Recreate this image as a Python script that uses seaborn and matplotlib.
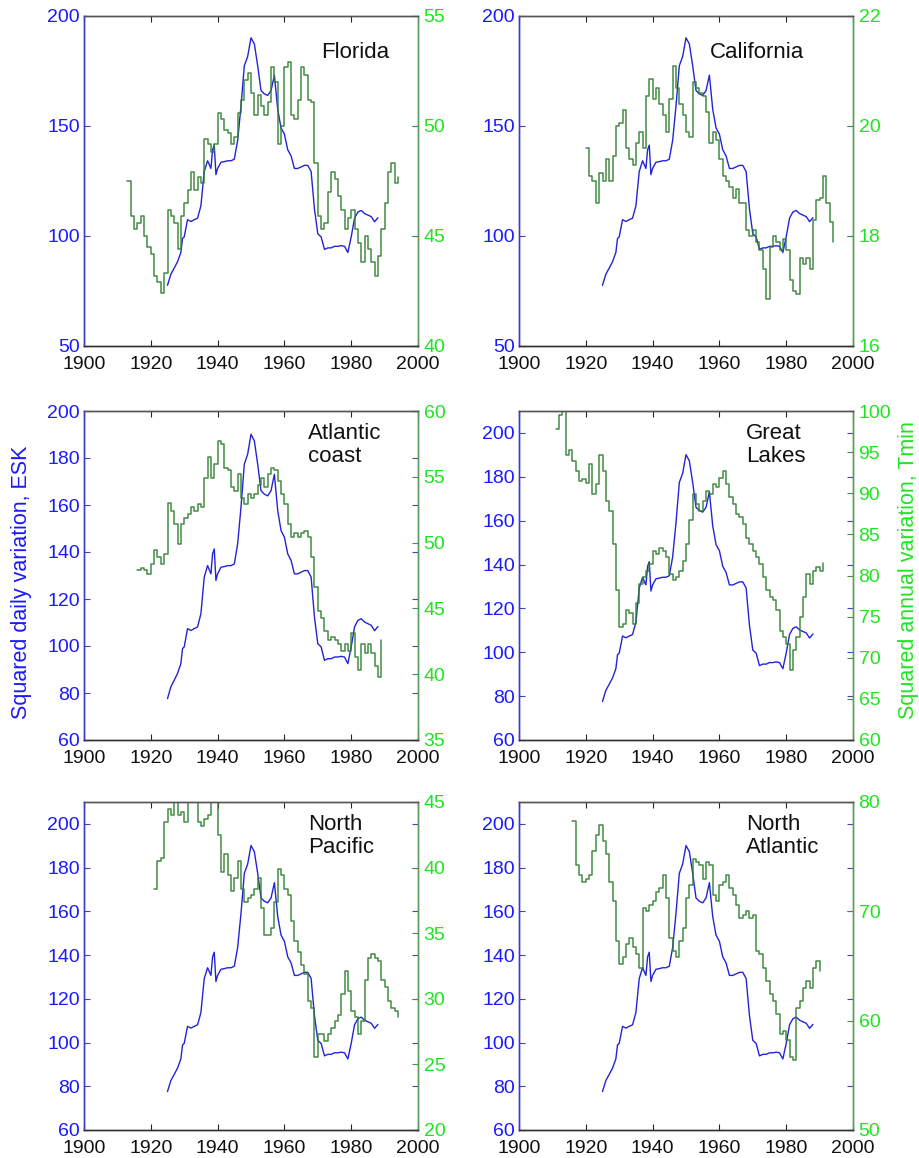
import matplotlib
matplotlib.use("Agg")
import matplotlib.pyplot as plt
import numpy as np
import pandas as pd
import seaborn as sns

# shared blue series: squared daily variation at ESK
BLUE_YEAR = [1925, 1926, 1927, 1928, 1929, 1929.5, 1930, 1931, 1932, 1933, 1934, 1935,
             1936, 1937, 1938, 1938.5, 1939, 1939.5, 1940, 1941, 1942, 1943, 1944, 1945,
             1946, 1947, 1948, 1949, 1950, 1951, 1952, 1953, 1954, 1955, 1956, 1957,
             1958, 1959, 1960, 1961, 1962, 1963, 1964, 1965, 1966, 1967, 1968, 1969,
             1970, 1971, 1972, 1973, 1974, 1975, 1976, 1977, 1978, 1979, 1980, 1981,
             1982, 1983, 1984, 1985, 1986, 1987, 1988]
ESK = [77.6, 82.6, 85.4, 88.3, 92.5, 98.9, 99.6, 107.4, 106.6, 107.4, 108.1, 113.7,
       129.3, 134.2, 130.7, 139.2, 141.3, 127.9, 130.7, 133.5, 133.8, 134.2, 134.2, 134.9,
       143.4, 159.0, 177.4, 181.6, 190.1, 187.3, 177.4, 166.1, 164.6, 163.9, 166.1, 173.1,
       157.6, 149.1, 146.3, 139.2, 136.4, 130.7, 130.7, 131.4, 132.1, 132.1, 129.3, 112.3,
       101.0, 99.6, 93.9, 94.6, 94.6, 95.3, 95.3, 95.6, 95.3, 92.5, 99.6, 108.1,
       110.9, 111.6, 110.2, 109.5, 108.8, 106.5, 108.3]

# green series: squared annual variation of Tmin, one value per year
FLORIDA_START = 1913
FLORIDA = [47.5, 45.9, 45.3, 45.6, 45.9, 45.0, 44.5, 44.2, 43.2, 42.9,
           42.4, 43.3, 46.2, 45.9, 45.6, 44.4, 45.9, 46.5, 47.1, 47.9,
           47.1, 47.7, 47.4, 49.4, 49.2, 48.8, 49.2, 50.6, 50.3, 49.8,
           49.7, 49.2, 49.5, 50.6, 51.2, 52.1, 52.4, 51.5, 50.5, 51.4,
           50.9, 50.5, 51.1, 52.7, 52.0, 49.2, 50.0, 52.7, 52.9, 50.5,
           50.3, 51.2, 52.7, 52.3, 51.2, 51.1, 48.3, 45.9, 45.3, 45.6,
           47.0, 47.9, 47.6, 46.8, 46.2, 45.3, 45.8, 46.2, 45.3, 44.7,
           43.8, 45.0, 44.4, 43.8, 43.2, 44.1, 45.3, 46.5, 47.9, 48.3,
           47.4, 47.7]

CALIFORNIA_START = 1920
CALIFORNIA = [19.6, 19.1, 19.0, 18.6, 19.15, 19.0, 19.4, 19.0, 19.45, 20.0,
              20.06, 20.3, 19.6, 19.4, 19.3, 19.7, 19.9, 19.6, 20.55, 20.85,
              20.5, 20.7, 20.4, 20.2, 19.9, 20.5, 21.1, 20.7, 20.4, 20.2,
              19.9, 19.8, 20.8, 20.7, 20.6, 20.55, 20.25, 19.7, 19.9, 19.75,
              19.4, 19.1, 19.0, 18.9, 18.7, 18.85, 18.6, 18.6, 18.1, 18.0,
              18.1, 17.9, 17.75, 17.4, 16.85, 17.8, 18.0, 17.9, 17.75, 17.95,
              17.75, 17.2, 17.0, 16.95, 17.6, 17.5, 17.6, 17.4, 18.3, 18.65,
              18.7, 19.1, 18.6, 18.25, 17.9]

ATLANTIC_START = 1916
ATLANTIC = [47.9, 48.1, 47.9, 47.6, 48.4, 49.4, 48.9, 48.4, 49.1, 53.0,
            52.4, 51.4, 49.9, 51.4, 51.9, 52.2, 52.7, 52.4, 52.9, 52.7,
            54.9, 56.5, 54.9, 56.0, 57.7, 57.5, 55.7, 55.5, 54.2, 53.9,
            55.2, 53.4, 52.9, 53.7, 53.4, 53.7, 54.4, 54.9, 54.2, 55.2,
            55.7, 55.5, 54.7, 53.7, 52.9, 51.4, 50.4, 50.7, 50.4, 50.7,
            50.9, 50.4, 48.9, 46.6, 44.8, 44.3, 43.3, 42.6, 42.8, 42.6,
            42.3, 41.8, 42.3, 41.8, 43.1, 41.3, 40.3, 42.3, 41.6, 42.3,
            41.6, 40.6, 39.8, 42.6]

LAKES_START = 1911
LAKES = [97.8, 99.5, 101.0, 94.7, 95.2, 93.9, 92.7, 91.5, 91.7, 91.3,
         93.5, 89.9, 91.1, 94.7, 92.7, 89.1, 87.9, 83.8, 78.2, 73.7,
         74.1, 75.8, 75.4, 74.1, 76.6, 79.0, 79.8, 80.6, 81.4, 83.0,
         82.6, 83.4, 83.0, 82.2, 80.2, 79.4, 79.8, 80.6, 81.8, 83.8,
         86.7, 89.9, 88.7, 87.9, 89.1, 90.3, 89.9, 91.1, 90.7, 91.9,
         92.7, 91.1, 89.5, 88.7, 87.5, 87.1, 86.3, 84.6, 83.8, 83.0,
         82.2, 81.4, 79.8, 78.2, 77.4, 77.0, 75.8, 73.3, 72.5, 71.7,
         68.5, 70.9, 72.5, 74.9, 77.4, 80.2, 79.0, 80.6, 81.0, 80.6,
         81.5]

NPACIFIC_START = 1921
NPACIFIC = [38.4, 40.5, 40.7, 43.5, 44.5, 44.0, 46.0, 44.0, 44.2, 43.5,
            46.0, 46.0, 45.5, 43.5, 43.2, 43.7, 44.0, 45.5, 46.0, 42.5,
            39.7, 41.0, 39.4, 38.2, 39.2, 40.5, 38.4, 37.4, 37.7, 37.9,
            38.4, 39.2, 36.9, 34.9, 34.9, 35.4, 37.4, 39.9, 39.4, 38.4,
            37.9, 35.9, 34.4, 33.6, 32.6, 31.9, 29.8, 29.3, 25.6, 27.3,
            27.3, 26.8, 27.3, 27.8, 28.3, 28.8, 30.4, 32.1, 30.6, 29.1,
            28.6, 27.3, 28.3, 31.4, 33.1, 33.4, 33.1, 32.9, 31.4, 30.9,
            29.8, 29.3, 29.1, 28.6]

NATLANTIC_START = 1916
NATLANTIC = [78.3, 74.2, 73.3, 72.7, 73.0, 73.3, 75.5, 77.0, 77.9, 76.4,
             75.2, 72.7, 70.9, 67.3, 65.2, 65.8, 67.0, 67.6, 66.7, 66.1,
             64.8, 70.3, 70.0, 70.6, 70.9, 71.8, 72.1, 73.3, 71.2, 67.6,
             66.4, 65.8, 67.3, 68.5, 71.2, 72.4, 74.8, 74.5, 74.2, 73.0,
             74.5, 74.2, 71.5, 70.9, 72.4, 72.7, 73.3, 72.1, 71.5, 70.6,
             69.4, 69.7, 70.0, 69.4, 69.7, 66.4, 66.1, 64.8, 63.6, 62.4,
             61.8, 60.6, 58.8, 59.1, 58.2, 56.7, 56.4, 61.2, 61.8, 63.0,
             63.6, 63.0, 64.8, 65.5, 64.5]

BLUE_LINE = "#2323d8"
GREEN_LINE = "#2f7f2f"
BLUE_TXT = "#1a1aff"
GREEN_TXT = "#1ee61e"

sns.set_style("ticks")
plt.rcParams["font.family"] = ["Liberation Sans", "DejaVu Sans"]

fig = plt.figure(figsize=(9.2, 11.58), dpi=100)

panels = [
    ("Florida", FLORIDA_START, FLORIDA, (50, 200), [50, 100, 150, 200], (40, 55), [40, 45, 50, 55]),
    ("California", CALIFORNIA_START, CALIFORNIA, (50, 200), [50, 100, 150, 200], (16, 22), [16, 18, 20, 22]),
    ("Atlantic\ncoast", ATLANTIC_START, ATLANTIC, (60, 200), list(range(60, 201, 20)), (35, 60), list(range(35, 61, 5))),
    ("Great\nLakes", LAKES_START, LAKES, (60, 210), list(range(60, 201, 20)), (60, 100), list(range(60, 101, 5))),
    ("North\nPacific", NPACIFIC_START, NPACIFIC, (60, 210), list(range(60, 201, 20)), (20, 45), list(range(20, 46, 5))),
    ("North\nAtlantic", NATLANTIC_START, NATLANTIC, (60, 210), list(range(60, 201, 20)), (50, 80), [50, 60, 70, 80]),
]

lefts = [84 / 920, 519 / 920]
rows = [(16, 346), (411, 740), (802, 1130)]
label_x = [1971, 1957, 1967, 1968, 1967, 1968]

blue_df = pd.DataFrame({"year": BLUE_YEAR, "esk": ESK})

for i, (name, start, vals, ylim, yticks, y2lim, y2ticks) in enumerate(panels):
    top, bot = rows[i // 2]
    ax = fig.add_axes([lefts[i % 2], 1 - bot / 1158, 334 / 920, (bot - top) / 1158])
    ax2 = ax.twinx()

    green_df = pd.DataFrame({"year": np.arange(start, start + len(vals)), "tmin": vals})

    sns.lineplot(data=blue_df, x="year", y="esk", ax=ax, color=BLUE_LINE, lw=1.0,
                 estimator=None, sort=False)
    sns.lineplot(data=green_df, x="year", y="tmin", ax=ax2, color=GREEN_LINE, lw=1.1,
                 alpha=0.9, estimator=None, sort=False, drawstyle="steps-post")

    ax.set_xlim(1900, 2000)
    ax.set_xticks(range(1900, 2001, 20))
    ax.set_ylim(*ylim)
    ax.set_yticks(yticks)
    ax2.set_ylim(*y2lim)
    ax2.set_yticks(y2ticks)
    ax.set_xlabel("")
    ax.set_ylabel("")
    ax2.set_ylabel("")

    ax.tick_params(axis="x", direction="in", top=True, length=4, pad=7,
                   labelsize=14, labelcolor="#111111")
    ax.tick_params(axis="y", direction="in", right=True, length=4, pad=3,
                   labelsize=14, labelcolor=BLUE_TXT, color="#4444aa")
    ax2.tick_params(axis="y", direction="in", length=4, pad=4,
                    labelsize=14, labelcolor=GREEN_TXT, color="#4a8a4a")

    for a in (ax, ax2):
        a.spines["left"].set_color("#3a3ad0")
        a.spines["right"].set_color("#5a9a5a")
        a.spines["top"].set_color("#555555")
        a.spines["bottom"].set_color("#333333")
        for s in a.spines.values():
            s.set_linewidth(1.0)

    if "\n" in name:
        ax.text(label_x[i], 0.963, name, transform=ax.get_xaxis_transform(),
                fontsize=16, color="#111111", ha="left", va="top",
                multialignment="left", linespacing=1.12)
    else:
        ax.text(label_x[i], 0.89, name, transform=ax.get_xaxis_transform(),
                fontsize=16, color="#111111", ha="left", va="center")

fig.text(22 / 920, 1 - 582 / 1158, "Squared daily variation, ESK", rotation=90,
         fontsize=15.5, color=BLUE_TXT, ha="center", va="center")
fig.text(909 / 920, 1 - 570 / 1158, "Squared annual variation, Tmin", rotation=90,
         fontsize=15.5, color=GREEN_TXT, ha="center", va="center")

fig.savefig("out.png", dpi=100)
